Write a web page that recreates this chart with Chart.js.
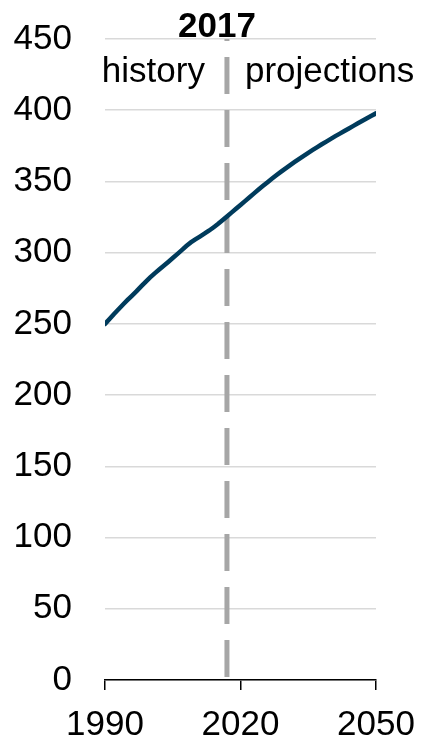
<!DOCTYPE html>
<html>
<head>
<meta charset="utf-8">
<script src="https://cdn.jsdelivr.net/npm/chart.js@4/dist/chart.umd.min.js"></script>
<style>
  html, body { margin: 0; padding: 0; background: #fff; }
  #wrap { width: 426px; height: 740px; position: relative; }
</style>
</head>
<body>
<div id="wrap"><canvas id="chart"></canvas></div>
<script>
// ===== DATA =====
const years = [
  1990, 1991, 1992, 1993, 1994, 1995, 1996, 1997, 1998, 1999,
  2000, 2001, 2002, 2003, 2004, 2005, 2006, 2007, 2008, 2009,
  2010, 2011, 2012, 2013, 2014, 2015, 2016, 2017, 2018, 2019,
  2020, 2021, 2022, 2023, 2024, 2025, 2026, 2027, 2028, 2029,
  2030, 2031, 2032, 2033, 2034, 2035, 2036, 2037, 2038, 2039,
  2040, 2041, 2042, 2043, 2044, 2045, 2046, 2047, 2048, 2049, 2050
];
const values = [
  250.0, 253.5, 257.0, 260.3, 263.6, 266.8, 269.9, 273.0, 276.3, 279.5,
  282.6, 285.5, 288.2, 290.8, 293.5, 296.2, 299.0, 301.8, 304.7, 307.2,
  309.3, 311.3, 313.3, 315.4, 317.7, 320.1, 322.7, 325.4, 328.1, 330.8,
  333.5, 336.2, 338.9, 341.6, 344.3, 346.9, 349.5, 352.0, 354.5, 356.9,
  359.2, 361.5, 363.7, 365.9, 368.0, 370.1, 372.1, 374.1, 376.1, 378.0,
  379.9, 381.8, 383.6, 385.4, 387.2, 389.0, 390.8, 392.6, 394.4, 396.1, 397.8
];
const xTicks = [1990, 2020, 2050];
const yMin = 0, yMax = 450, yStep = 50;
const dividerYear = 2017;
const dividerLabel = "2017";
const leftLabel = "history";
const rightLabel = "projections";

const FONT = "'Liberation Sans', Arial, sans-serif";

// ===== LABELS PLUGIN =====
const labelsPlugin = {
  id: "labels",
  afterDraw(chart){
    const ctx = chart.ctx;
    const x = chart.scales.x.getPixelForValue(dividerYear);
    ctx.save();
    ctx.fillStyle = "#000";
    ctx.textBaseline = "alphabetic";
    ctx.font = "bold 35px " + FONT;
    ctx.textAlign = "center";
    ctx.fillText(dividerLabel, x - 10, 36.5);
    ctx.font = "35px " + FONT;
    ctx.textAlign = "right";
    ctx.fillText(leftLabel, x - 22, 82);
    ctx.textAlign = "left";
    ctx.fillText(rightLabel, x + 18, 82);
    ctx.restore();
  }
};

// ===== CHART =====
const ctx = document.getElementById("chart").getContext("2d");

new Chart(ctx, {
  type: "line",
  data: {
    datasets: [
      {
        data: years.map((y, i) => ({ x: y, y: values[i] })),
        borderColor: "#003b5c",
        borderWidth: 4.5,
        borderCapStyle: "round",
        pointRadius: 0,
        tension: 0,
        order: 1
      },
      {
        data: [{ x: dividerYear, y: yMin }, { x: dividerYear, y: yMax }],
        borderColor: "#a6a6a6",
        borderWidth: 5,
        borderDash: [37, 16],
        borderDashOffset: 50,
        pointRadius: 0,
        order: 2
      }
    ]
  },
  options: {
    responsive: true,
    maintainAspectRatio: false,
    animation: false,
    layout: { padding: { top: 39, right: 50, bottom: 0, left: 0 } },
    plugins: {
      legend: { display: false },
      tooltip: { enabled: false }
    },
    scales: {
      x: {
        type: "linear",
        min: xTicks[0],
        max: xTicks[xTicks.length - 1],
        afterBuildTicks: s => { s.ticks = xTicks.map(v => ({ value: v })); },
        afterFit: s => { s.height = 60; s.paddingLeft = 0; s.paddingRight = 0; },
        ticks: {
          color: "#000",
          font: { family: FONT, size: 35 },
          padding: 14,
          maxRotation: 0,
          callback: v => String(v)
        },
        grid: {
          drawOnChartArea: false,
          drawTicks: true,
          tickLength: 10,
          color: "#000",
          lineWidth: 1.5
        },
        border: { display: true, color: "#000", width: 1.5 }
      },
      y: {
        min: yMin,
        max: yMax,
        afterFit: s => { s.width = 105; s.paddingTop = 0; s.paddingBottom = 0; },
        ticks: {
          stepSize: yStep,
          color: "#000",
          font: { family: FONT, size: 35 },
          padding: 33
        },
        grid: {
          drawTicks: false,
          color: "#d9d9d9",
          lineWidth: 1.5
        },
        border: { display: false }
      }
    }
  },
  plugins: [labelsPlugin]
});
</script>
</body>
</html>
